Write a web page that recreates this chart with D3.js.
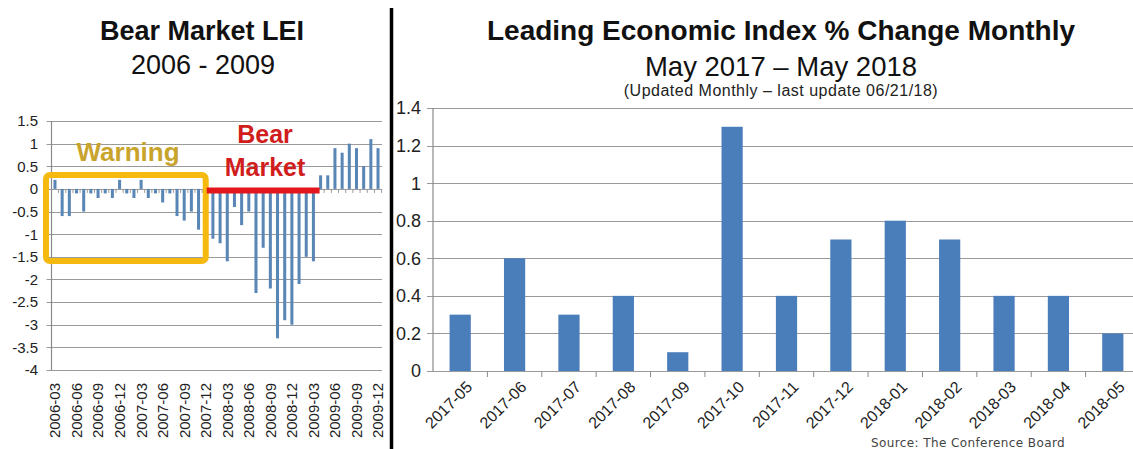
<!DOCTYPE html>
<html>
<head>
<meta charset="utf-8">
<script src="https://cdn.jsdelivr.net/npm/d3@7"></script>
<style>
body { margin: 0; background: #fff; }
svg { display: block; font-family: "Liberation Sans", Arial, sans-serif; }
</style>
</head>
<body>
<svg id="svg1" width="1133" height="449"></svg>
<script>
// left chart: bear market LEI, monthly 2006-03 .. 2009-12
var leiMonths = [
  "2006-03","2006-04","2006-05","2006-06","2006-07","2006-08","2006-09","2006-10","2006-11","2006-12",
  "2007-01","2007-02","2007-03","2007-04","2007-05","2007-06","2007-07","2007-08","2007-09","2007-10",
  "2007-11","2007-12","2008-01","2008-02","2008-03","2008-04","2008-05","2008-06","2008-07","2008-08",
  "2008-09","2008-10","2008-11","2008-12","2009-01","2009-02","2009-03","2009-04","2009-05","2009-06",
  "2009-07","2009-08","2009-09","2009-10","2009-11","2009-12"
];
var leiValues = [
  0.2, -0.6, -0.6, -0.1, -0.5, -0.1, -0.2, -0.1, -0.2, 0.2,
  -0.1, -0.2, 0.2, -0.2, -0.1, -0.3, -0.1, -0.6, -0.7, -0.5,
  -0.9, -0.1, -1.1, -1.2, -1.6, -0.4, -0.8, -0.5, -2.3, -1.3,
  -2.2, -3.3, -2.9, -3.0, -2.1, -1.5, -1.6, 0.3, 0.3, 0.9,
  0.8, 1.0, 0.9, 0.5, 1.1, 0.9
];
var leiTicks = [1.5, 1, 0.5, 0, -0.5, -1, -1.5, -2, -2.5, -3, -3.5, -4];
var leiLabelMonths = leiMonths.filter(function (d, i) { return i % 3 == 0; });

// right chart: LEI % change monthly, May 2017 .. May 2018
var chgMonths = ["2017-05","2017-06","2017-07","2017-08","2017-09","2017-10","2017-11",
                 "2017-12","2018-01","2018-02","2018-03","2018-04","2018-05"];
var chgValues = [0.3, 0.6, 0.3, 0.4, 0.1, 1.3, 0.4, 0.7, 0.8, 0.7, 0.4, 0.4, 0.2];
var chgTicks = [0, 0.2, 0.4, 0.6, 0.8, 1, 1.2, 1.4];

var svg = d3.select('#svg1');

// ---------- left chart ----------
var xL = d3.scaleBand().domain(leiMonths).range([49.3, 383.7]).padding(0.58);
var yL = d3.scaleLinear().domain([-4, 1.5]).range([370, 121]);
var midL = function (d) { return xL(d) + xL.bandwidth() / 2; };

var left = svg.append('g');

left.selectAll('line.grid')
    .data(leiTicks)
    .enter()
    .append('line')
    .attr('x1', 46.5).attr('x2', 382)
    .attr('y1', function (d) { return Math.round(yL(d)) + 0.5; })
    .attr('y2', function (d) { return Math.round(yL(d)) + 0.5; })
    .attr('stroke', '#9a9a9a')
    .attr('stroke-width', 1.2);

left.selectAll('text.ylab')
    .data(leiTicks)
    .enter()
    .append('text')
    .attr('x', 38)
    .attr('y', function (d) { return yL(d); })
    .attr('dy', '0.36em')
    .attr('text-anchor', 'end')
    .attr('font-size', 15)
    .attr('fill', '#222')
    .text(function (d) { return d; });

left.append('line')
    .attr('x1', 51.5).attr('x2', 51.5)
    .attr('y1', yL(1.5)).attr('y2', yL(-4))
    .attr('stroke', '#8a8a8a').attr('stroke-width', 1.2);

// small month ticks on the zero line
left.selectAll('line.mtick')
    .data(leiMonths)
    .enter()
    .append('line')
    .attr('x1', function (d) { return midL(d) + xL.step() / 2; })
    .attr('x2', function (d) { return midL(d) + xL.step() / 2; })
    .attr('y1', yL(0)).attr('y2', yL(0) + 4)
    .attr('stroke', '#9a9a9a');

left.selectAll('rect.bar')
    .data(leiValues)
    .enter()
    .append('rect')
    .attr('x', function (d, i) { return xL(leiMonths[i]); })
    .attr('width', xL.bandwidth())
    .attr('y', function (d) { return yL(Math.max(0, d)); })
    .attr('height', function (d) { return Math.abs(yL(d) - yL(0)); })
    .attr('fill', '#5a86b6');

left.selectAll('text.xlab')
    .data(leiLabelMonths)
    .enter()
    .append('text')
    .attr('transform', function (d) {
        return 'translate(' + midL(d) + ',383) rotate(-90)';
    })
    .attr('dy', '0.36em')
    .attr('text-anchor', 'end')
    .attr('font-size', 15)
    .attr('fill', '#222')
    .text(function (d) { return d; });

// warning box and bear market marker
left.append('rect')
    .attr('x', midL(leiMonths[0]) - 9).attr('y', 175)
    .attr('width', midL(leiMonths[21]) - midL(leiMonths[0]) + 9).attr('height', 86)
    .attr('rx', 4)
    .attr('fill', 'none')
    .attr('stroke', '#f5b90f')
    .attr('stroke-width', 6);

left.append('text')
    .attr('x', 128).attr('y', 161)
    .attr('text-anchor', 'middle')
    .attr('font-size', 26).attr('font-weight', 'bold')
    .attr('fill', '#c9a42c')
    .text('Warning');

left.append('line')
    .attr('x1', midL(leiMonths[21]) + 1).attr('x2', midL(leiMonths[37]) - 1)
    .attr('y1', yL(0) + 1.5).attr('y2', yL(0) + 1.5)
    .attr('stroke', '#e3161b')
    .attr('stroke-width', 6);

left.append('text')
    .attr('x', 265).attr('y', 143)
    .attr('text-anchor', 'middle')
    .attr('font-size', 25).attr('font-weight', 'bold')
    .attr('fill', '#d21d1d')
    .text('Bear');
left.append('text')
    .attr('x', 265).attr('y', 176)
    .attr('text-anchor', 'middle')
    .attr('font-size', 25).attr('font-weight', 'bold')
    .attr('fill', '#d21d1d')
    .text('Market');

left.append('text')
    .attr('x', 202).attr('y', 40)
    .attr('text-anchor', 'middle')
    .attr('font-size', 27).attr('font-weight', 'bold')
    .attr('fill', '#111')
    .text('Bear Market LEI');
left.append('text')
    .attr('x', 203).attr('y', 74)
    .attr('text-anchor', 'middle')
    .attr('font-size', 27)
    .attr('fill', '#111')
    .text('2006 - 2009');

// ---------- right chart ----------
var xR = d3.scaleBand().domain(chgMonths).range([433, 1140]).paddingInner(0.61).paddingOuter(0.305);
var yR = d3.scaleLinear().domain([0, 1.4]).range([371, 108]);

var right = svg.append('g');

right.selectAll('line.grid')
    .data(chgTicks)
    .enter()
    .append('line')
    .attr('x1', 427).attr('x2', 1133)
    .attr('y1', function (d) { return Math.round(yR(d)) + 0.5; })
    .attr('y2', function (d) { return Math.round(yR(d)) + 0.5; })
    .attr('stroke', '#9a9a9a')
    .attr('stroke-width', 1.2);

right.selectAll('text.ylab')
    .data(chgTicks)
    .enter()
    .append('text')
    .attr('x', 421)
    .attr('y', function (d) { return yR(d); })
    .attr('dy', '0.36em')
    .attr('text-anchor', 'end')
    .attr('font-size', 18)
    .attr('fill', '#222')
    .text(function (d) { return d; });

right.append('line')
    .attr('x1', 433).attr('x2', 433)
    .attr('y1', yR(1.4)).attr('y2', yR(0))
    .attr('stroke', '#8a8a8a').attr('stroke-width', 1.2);

right.selectAll('line.xtick')
    .data(chgMonths)
    .enter()
    .append('line')
    .attr('x1', function (d) { return xR(d) + xR.bandwidth() / 2 + xR.step() / 2; })
    .attr('x2', function (d) { return xR(d) + xR.bandwidth() / 2 + xR.step() / 2; })
    .attr('y1', yR(0)).attr('y2', yR(0) + 6)
    .attr('stroke', '#8a8a8a');

right.selectAll('rect.bar')
    .data(chgValues)
    .enter()
    .append('rect')
    .attr('x', function (d, i) { return xR(chgMonths[i]); })
    .attr('width', xR.bandwidth())
    .attr('y', function (d) { return yR(d); })
    .attr('height', function (d) { return yR(0) - yR(d); })
    .attr('fill', '#4a7ebb');

right.selectAll('text.xlab')
    .data(chgMonths)
    .enter()
    .append('text')
    .attr('transform', function (d) {
        return 'translate(' + (xR(d) + xR.bandwidth() / 2 + 9) + ',384) rotate(-45)';
    })
    .attr('dy', '0.36em')
    .attr('text-anchor', 'end')
    .attr('font-size', 16)
    .attr('fill', '#222')
    .text(function (d) { return d; });

right.append('text')
    .attr('x', 781).attr('y', 40)
    .attr('text-anchor', 'middle')
    .attr('font-size', 28).attr('font-weight', 'bold')
    .attr('fill', '#111')
    .text('Leading Economic Index % Change Monthly');
right.append('text')
    .attr('x', 781).attr('y', 76)
    .attr('text-anchor', 'middle')
    .attr('font-size', 27.5)
    .attr('fill', '#111')
    .text('May 2017 \u2013 May 2018');
right.append('text')
    .attr('x', 781).attr('y', 96)
    .attr('text-anchor', 'middle')
    .attr('font-size', 16)
    .attr('letter-spacing', 0.5)
    .attr('fill', '#222')
    .text('(Updated Monthly \u2013 last update 06/21/18)');
right.append('text')
    .attr('x', 968).attr('y', 447)
    .attr('text-anchor', 'middle')
    .attr('font-family', '"DejaVu Sans", sans-serif')
    .attr('font-size', 12)
    .attr('letter-spacing', 0.4)
    .attr('fill', '#444')
    .text('Source: The Conference Board');

// divider
svg.append('line')
    .attr('x1', 391.5).attr('x2', 391.5)
    .attr('y1', 8).attr('y2', 449)
    .attr('stroke', '#000')
    .attr('stroke-width', 3.5);
</script>
</body>
</html>
